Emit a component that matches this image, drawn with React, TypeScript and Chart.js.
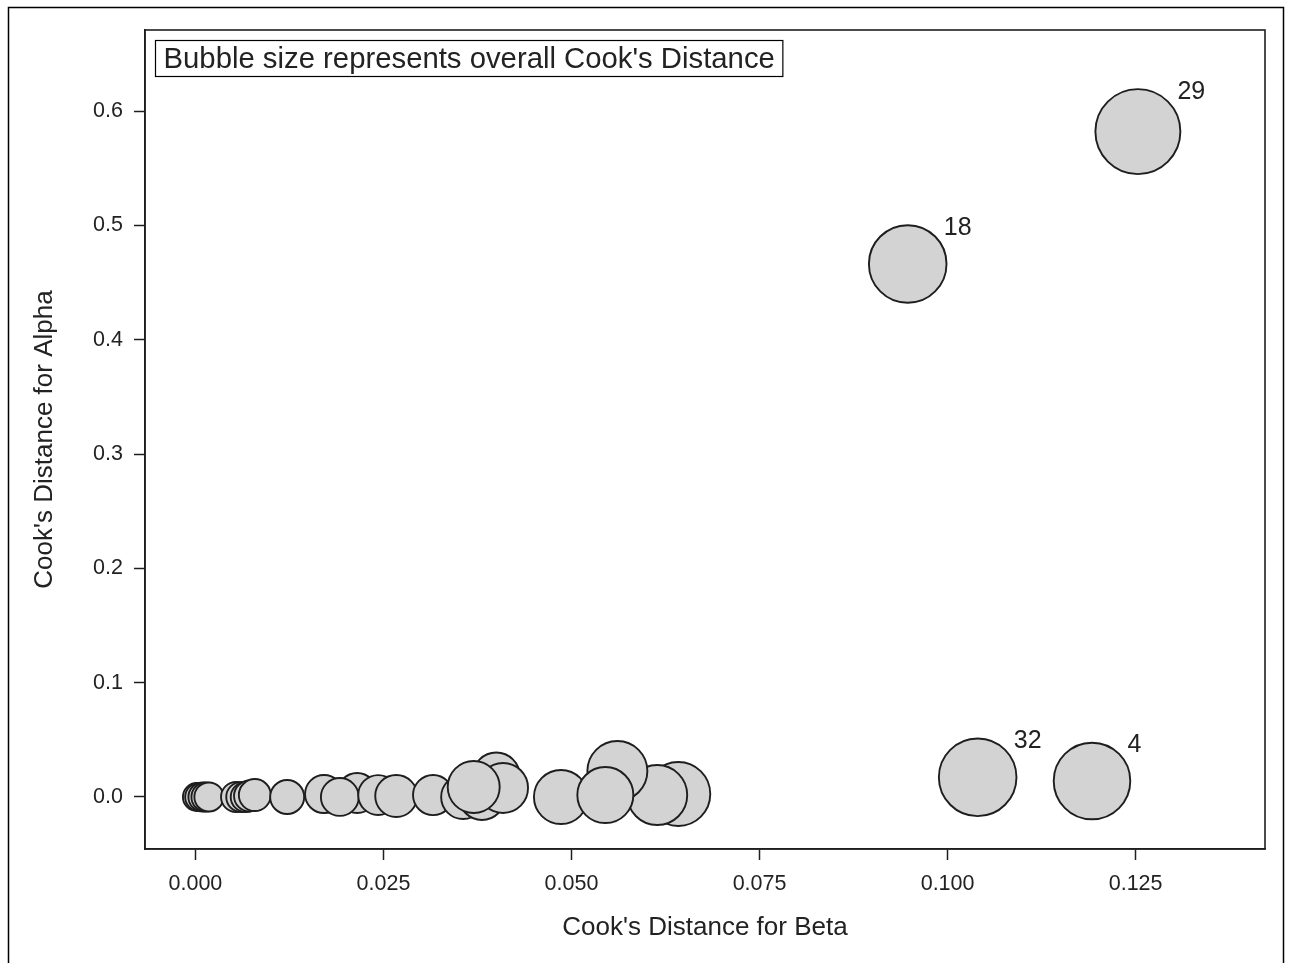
import React, { useEffect, useRef } from "react";
import { Chart, registerables, BubbleController } from "chart.js";

Chart.register(...registerables);
// keep the plot frame where the reference has it (no extra room reserved for bubble radii)
(BubbleController.prototype as any).getMaxOverflow = function () {
  return 0;
};

// ---- data ----
const OBS = [
  1, 2, 3, 4, 5, 6, 7, 8, 9, 10, 11, 12, 13, 14, 15, 16,
  17, 18, 19, 20, 21, 22, 23, 24, 25, 26, 27, 28, 29, 30, 31, 32,
];
const COOK_BETA = [
  0.0002, 0.0006, 0.0005, 0.1192, 0.001, 0.0014, 0.0018, 0.0054, 0.0061, 0.0067, 0.0072, 0.0079,
  0.0122, 0.0171, 0.0215, 0.0192, 0.0243, 0.0947, 0.0267, 0.0316, 0.0356, 0.0381, 0.04, 0.0409,
  0.037, 0.0486, 0.0642, 0.0614, 0.1253, 0.0561, 0.0545, 0.104,
];
const COOK_ALPHA = [
  0, 0, 0, 0.014, 0, 0, 0, 0, 0, 0, 0.0009, 0.0017,
  0, 0.0026, 0.0035, 0, 0.0017, 0.4663, 0.0009, 0.0017, 0, 0, 0.0184, 0.0079,
  0.0087, 0, 0.0026, 0.0017, 0.5821, 0.0227, 0.0017, 0.0172,
];
const COOK_OVERALL = [
  0.002, 0.003, 0.002, 0.614, 0.015, 0.015, 0.016, 0.027, 0.028, 0.029, 0.04, 0.052,
  0.078, 0.128, 0.153, 0.126, 0.152, 0.627, 0.178, 0.155, 0.204, 0.229, 0.241, 0.279,
  0.304, 0.33, 0.455, 0.405, 0.72, 0.405, 0.355, 0.627,
];
const LABELED_OBS = [4, 18, 29, 32];

const X_TICKS = [0, 0.025, 0.05, 0.075, 0.1, 0.125];
const Y_TICKS = [0, 0.1, 0.2, 0.3, 0.4, 0.5, 0.6];
const X_MIN = -0.0067;
const X_MAX = 0.1422;
const Y_MIN = -0.0455;
const Y_MAX = 0.671;

const NOTE_TEXT = "Bubble size represents overall Cook's Distance";
const X_TITLE = "Cook's Distance for Beta";
const Y_TITLE = "Cook's Distance for Alpha";

// ---- styles ----
const FONT = "'Liberation Sans', Arial, sans-serif";
const R_MIN = 14;
const R_MAX = 42.5;
const FILL = "#D3D3D3";
const LINE = "#1e1e1e";
const TEXT = "#222222";

const dMin = Math.min(...COOK_OVERALL);
const dMax = Math.max(...COOK_OVERALL);
const radiusOf = (d: number) => R_MIN + ((d - dMin) / (dMax - dMin)) * (R_MAX - R_MIN);

const decorPlugin = {
  id: "decor",
  afterDraw(chart: any) {
    const { ctx, chartArea } = chart;
    ctx.save();
    // outer image frame
    ctx.strokeStyle = "#000";
    ctx.lineWidth = 1.5;
    ctx.strokeRect(8.5, 7.5, 1275, 960);
    // plot frame
    ctx.strokeStyle = LINE;
    ctx.lineWidth = 1.6;
    ctx.strokeRect(chartArea.left, chartArea.top, chartArea.right - chartArea.left, chartArea.bottom - chartArea.top);
    // note box
    ctx.font = `29.3px ${FONT}`;
    const w = ctx.measureText(NOTE_TEXT).width;
    const bx = chartArea.left + 10.5;
    const by = chartArea.top + 10.5;
    ctx.lineWidth = 1.2;
    ctx.strokeStyle = "#000";
    ctx.strokeRect(bx, by, w + 16, 36);
    ctx.fillStyle = TEXT;
    ctx.textAlign = "left";
    ctx.textBaseline = "middle";
    ctx.fillText(NOTE_TEXT, bx + 8, by + 19);
    // bubble labels
    const meta = chart.getDatasetMeta(0);
    ctx.font = `25px ${FONT}`;
    meta.data.forEach((el: any, i: number) => {
      if (!LABELED_OBS.includes(OBS[i])) return;
      const r = el.options.radius;
      ctx.fillText(String(OBS[i]), el.x + r * 0.93, el.y - r + 2.5);
    });
    ctx.restore();
  },
};

export default function App() {
  const ref = useRef<HTMLCanvasElement | null>(null);
  useEffect(() => {
    if (!ref.current) return;
    const data = OBS.map((_, i) => ({
      x: COOK_BETA[i],
      y: COOK_ALPHA[i],
      r: radiusOf(COOK_OVERALL[i]),
    }));
    const chart = new Chart(ref.current, {
      type: "bubble",
      data: {
        datasets: [
          {
            data,
            backgroundColor: FILL,
            borderColor: LINE,
            borderWidth: 1.9,
            clip: false,
          } as any,
        ],
      },
      options: {
        animation: false,
        responsive: false,
        devicePixelRatio: 1,
        layout: { padding: { left: 0, top: 30, right: 24, bottom: 0 } },
        plugins: { legend: { display: false }, tooltip: { enabled: false } },
        scales: {
          x: {
            type: "linear",
            min: X_MIN,
            max: X_MAX,
            afterBuildTicks: (s: any) => {
              s.ticks = X_TICKS.map((v) => ({ value: v }));
            },
            afterFit: (s: any) => {
              s.height = 963 - 849;
            },
            ticks: {
              callback: (v: any) => Number(v).toFixed(3),
              font: { family: FONT, size: 21.5 },
              color: TEXT,
              padding: 11,
              maxRotation: 0,
              autoSkip: false,
            },
            grid: { drawOnChartArea: false, drawTicks: true, tickLength: 11, tickColor: LINE, tickWidth: 1.5 },
            border: { display: true, color: LINE, width: 1.6 },
            title: {
              display: true,
              text: X_TITLE,
              font: { family: FONT, size: 26 },
              color: TEXT,
              padding: { top: 0, bottom: 20 },
            },
          },
          y: {
            type: "linear",
            min: Y_MIN,
            max: Y_MAX,
            afterBuildTicks: (s: any) => {
              s.ticks = Y_TICKS.map((v) => ({ value: v }));
            },
            afterFit: (s: any) => {
              s.width = 145;
            },
            ticks: {
              callback: (v: any) => Number(v).toFixed(1),
              font: { family: FONT, size: 21.5 },
              color: TEXT,
              padding: 11,
              autoSkip: false,
            },
            grid: { drawOnChartArea: false, drawTicks: true, tickLength: 11, tickColor: LINE, tickWidth: 1.5 },
            border: { display: true, color: LINE, width: 1.6 },
            title: {
              display: true,
              text: Y_TITLE,
              font: { family: FONT, size: 26 },
              color: TEXT,
              padding: { top: 29, bottom: 0 },
            },
          },
        },
      },
      plugins: [decorPlugin],
    });
    return () => chart.destroy();
  }, []);
  return (
    <canvas
      ref={ref}
      width={1289}
      height={963}
      style={{ position: "fixed", left: 0, top: 0, width: 1289, height: 963 }}
    />
  );
}
